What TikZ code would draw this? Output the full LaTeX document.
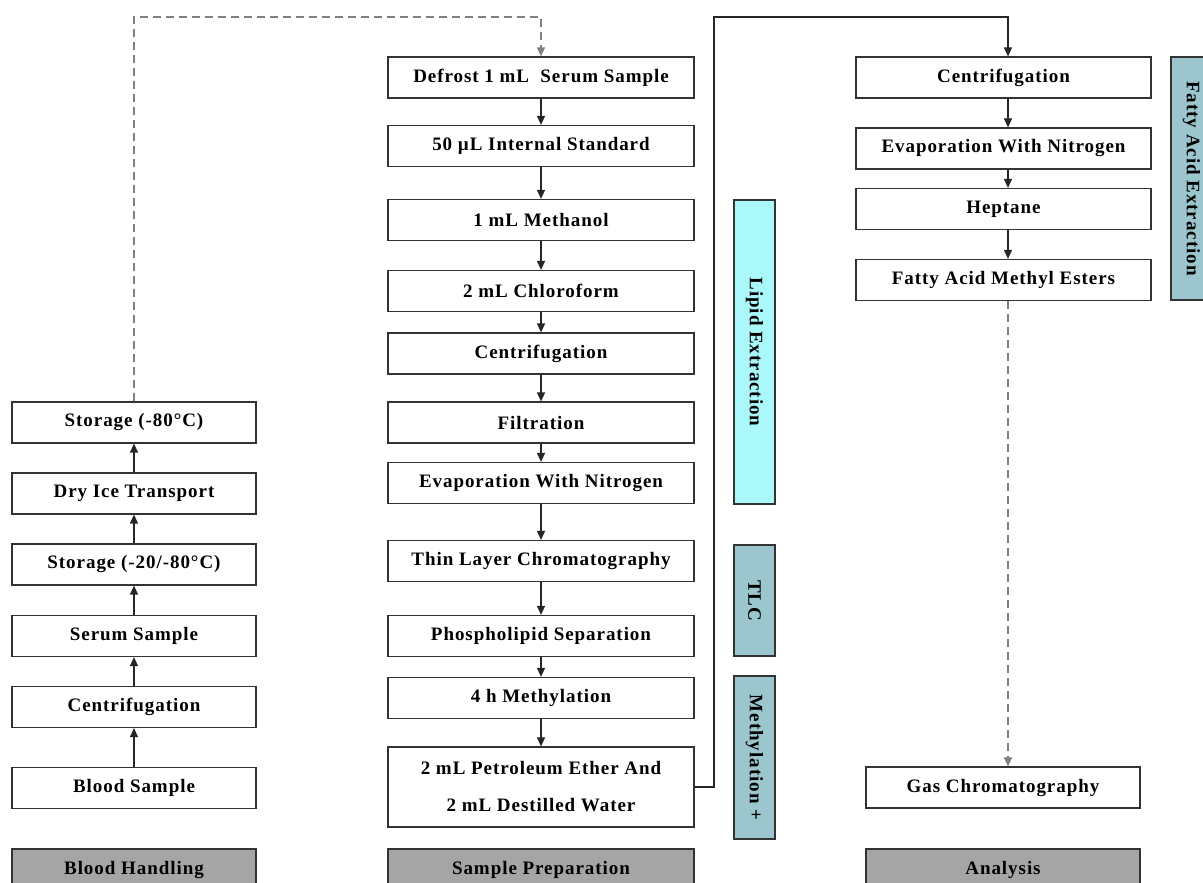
\documentclass[tikz,border=0pt]{standalone}
\usepackage{fontspec}
\setmainfont{Liberation Serif}[LetterSpace=5]
\usetikzlibrary{arrows.meta}
\definecolor{cyanbox}{HTML}{AAF8FA}
\definecolor{tealbox}{HTML}{9CC6CE}
\definecolor{graybox}{HTML}{A5A5A5}
\definecolor{dashgray}{HTML}{808080}
\begin{document}
\begin{tikzpicture}[x=1pt,y=-1pt,
  box/.style={draw=black!80, line width=1.2pt, fill=white, inner sep=0pt,
    minimum height=41, font=\fontsize{19}{22}\selectfont\bfseries, text=black},
  lbox/.style={box, minimum width=244},
  mbox/.style={box, minimum width=306},
  rbox/.style={box, minimum width=295},
  gbox/.style={box, minimum width=274},
  headbox/.style={box, fill=graybox},
  sidebox/.style={box, rotate=-90},
  arr/.style={-{Triangle[width=8pt,length=9pt]}, line width=1.3pt, draw=black!85},
  darr/.style={-{Triangle[width=8pt,length=9pt]}, line width=1.3pt, draw=dashgray, dash pattern=on 8pt off 5pt},
]
\useasboundingbox (0,0) rectangle (1203,883);
\clip (0,0) rectangle (1203,883);
\fill[white] (0,0) rectangle (1203,883);

% left column
\node[lbox] (s80)   at (134,422.5) {Storage (-80°C)};
\node[lbox] (dry)   at (134,493.5) {Dry Ice Transport};
\node[lbox] (s20)   at (134,564.5) {Storage (-20/-80°C)};
\node[lbox] (serum) at (134,636)   {Serum Sample};
\node[lbox] (cenA)  at (134,707)   {Centrifugation};
\node[lbox] (blood) at (134,788)   {Blood Sample};
\node[lbox, headbox, minimum width=244] (bh) at (134,869.5) {Blood Handling};

% middle column
\node[mbox] (def)  at (541,77.5)  {Defrost 1 mL\ \ Serum Sample};
\node[mbox] (std)  at (541,146)   {50 µL Internal Standard};
\node[mbox] (meth) at (541,220)   {1 mL Methanol};
\node[mbox] (chl)  at (541,291)   {2 mL Chloroform};
\node[mbox] (cenB) at (541,353.5) {Centrifugation};
\node[mbox] (filt) at (541,422.5) {Filtration};
\node[mbox] (evA)  at (541,483)   {Evaporation With Nitrogen};
\node[mbox] (tlc)  at (541,561)   {Thin Layer Chromatography};
\node[mbox] (phos) at (541,636)   {Phospholipid Separation};
\node[mbox] (hm)   at (541,698)   {4 h Methylation};
\node[mbox, minimum height=80, align=center, font=\fontsize{19}{37}\selectfont\bfseries] (pet) at (541,787)
  {2 mL Petroleum Ether And\\2 mL Destilled Water};
\node[mbox, headbox, minimum width=306] (sp) at (541,869.5) {Sample Preparation};

% side labels
\node[sidebox, fill=cyanbox, minimum width=304] (lip) at (754.5,352) {Lipid Extraction};
\node[sidebox, fill=tealbox, minimum width=111] (tlcS) at (754.5,600.5) {TLC};
\node[sidebox, fill=tealbox, minimum width=163] (mthS) at (754.5,757.5) {Methylation +};
\node[sidebox, fill=tealbox, minimum width=243] (fae) at (1191.5,178.5) {Fatty Acid Extraction};

% right column
\node[rbox] (cenC) at (1003.5,77.5)  {Centrifugation};
\node[rbox] (evB)  at (1003.5,148.5) {Evaporation With Nitrogen};
\node[rbox] (hep)  at (1003.5,209)   {Heptane};
\node[rbox] (fame) at (1003.5,280)   {Fatty Acid Methyl Esters};
\node[gbox] (gc)   at (1003,787.5)   {Gas Chromatography};
\node[gbox, headbox, minimum width=274] (an) at (1003,869.5) {Analysis};

% coordinates for routing
\coordinate (tl) at (134,17);
\coordinate (tm) at (541,17);
\coordinate (vr) at (714,787);
\coordinate (vt) at (714,17);
\coordinate (rt) at (1008,17);

% left arrows (upward)
\draw[arr] (blood.north) -- (cenA.south);
\draw[arr] (cenA.north) -- (serum.south);
\draw[arr] (serum.north) -- (s20.south);
\draw[arr] (s20.north) -- (dry.south);
\draw[arr] (dry.north) -- (s80.south);

% dashed link to sample preparation
\draw[darr] (s80.north) -- (tl) -- (tm) -- (def.north);

% middle arrows
\draw[arr] (def.south) -- (std.north);
\draw[arr] (std.south) -- (meth.north);
\draw[arr] (meth.south) -- (chl.north);
\draw[arr] (chl.south) -- (cenB.north);
\draw[arr] (cenB.south) -- (filt.north);
\draw[arr] (filt.south) -- (evA.north);
\draw[arr] (evA.south) -- (tlc.north);
\draw[arr] (tlc.south) -- (phos.north);
\draw[arr] (phos.south) -- (hm.north);
\draw[arr] (hm.south) -- (pet.north);

% link to fatty acid extraction
\draw[arr] (pet.east) -- (vr) -- (vt) -- (rt) -- ([xshift=4.5pt]cenC.north);

% right arrows
\draw[arr] ([xshift=4.5pt]cenC.south) -- ([xshift=4.5pt]evB.north);
\draw[arr] ([xshift=4.5pt]evB.south) -- ([xshift=4.5pt]hep.north);
\draw[arr] ([xshift=4.5pt]hep.south) -- ([xshift=4.5pt]fame.north);
\draw[darr] ([xshift=4.5pt]fame.south) -- ([xshift=5pt]gc.north);
\end{tikzpicture}
\end{document}
